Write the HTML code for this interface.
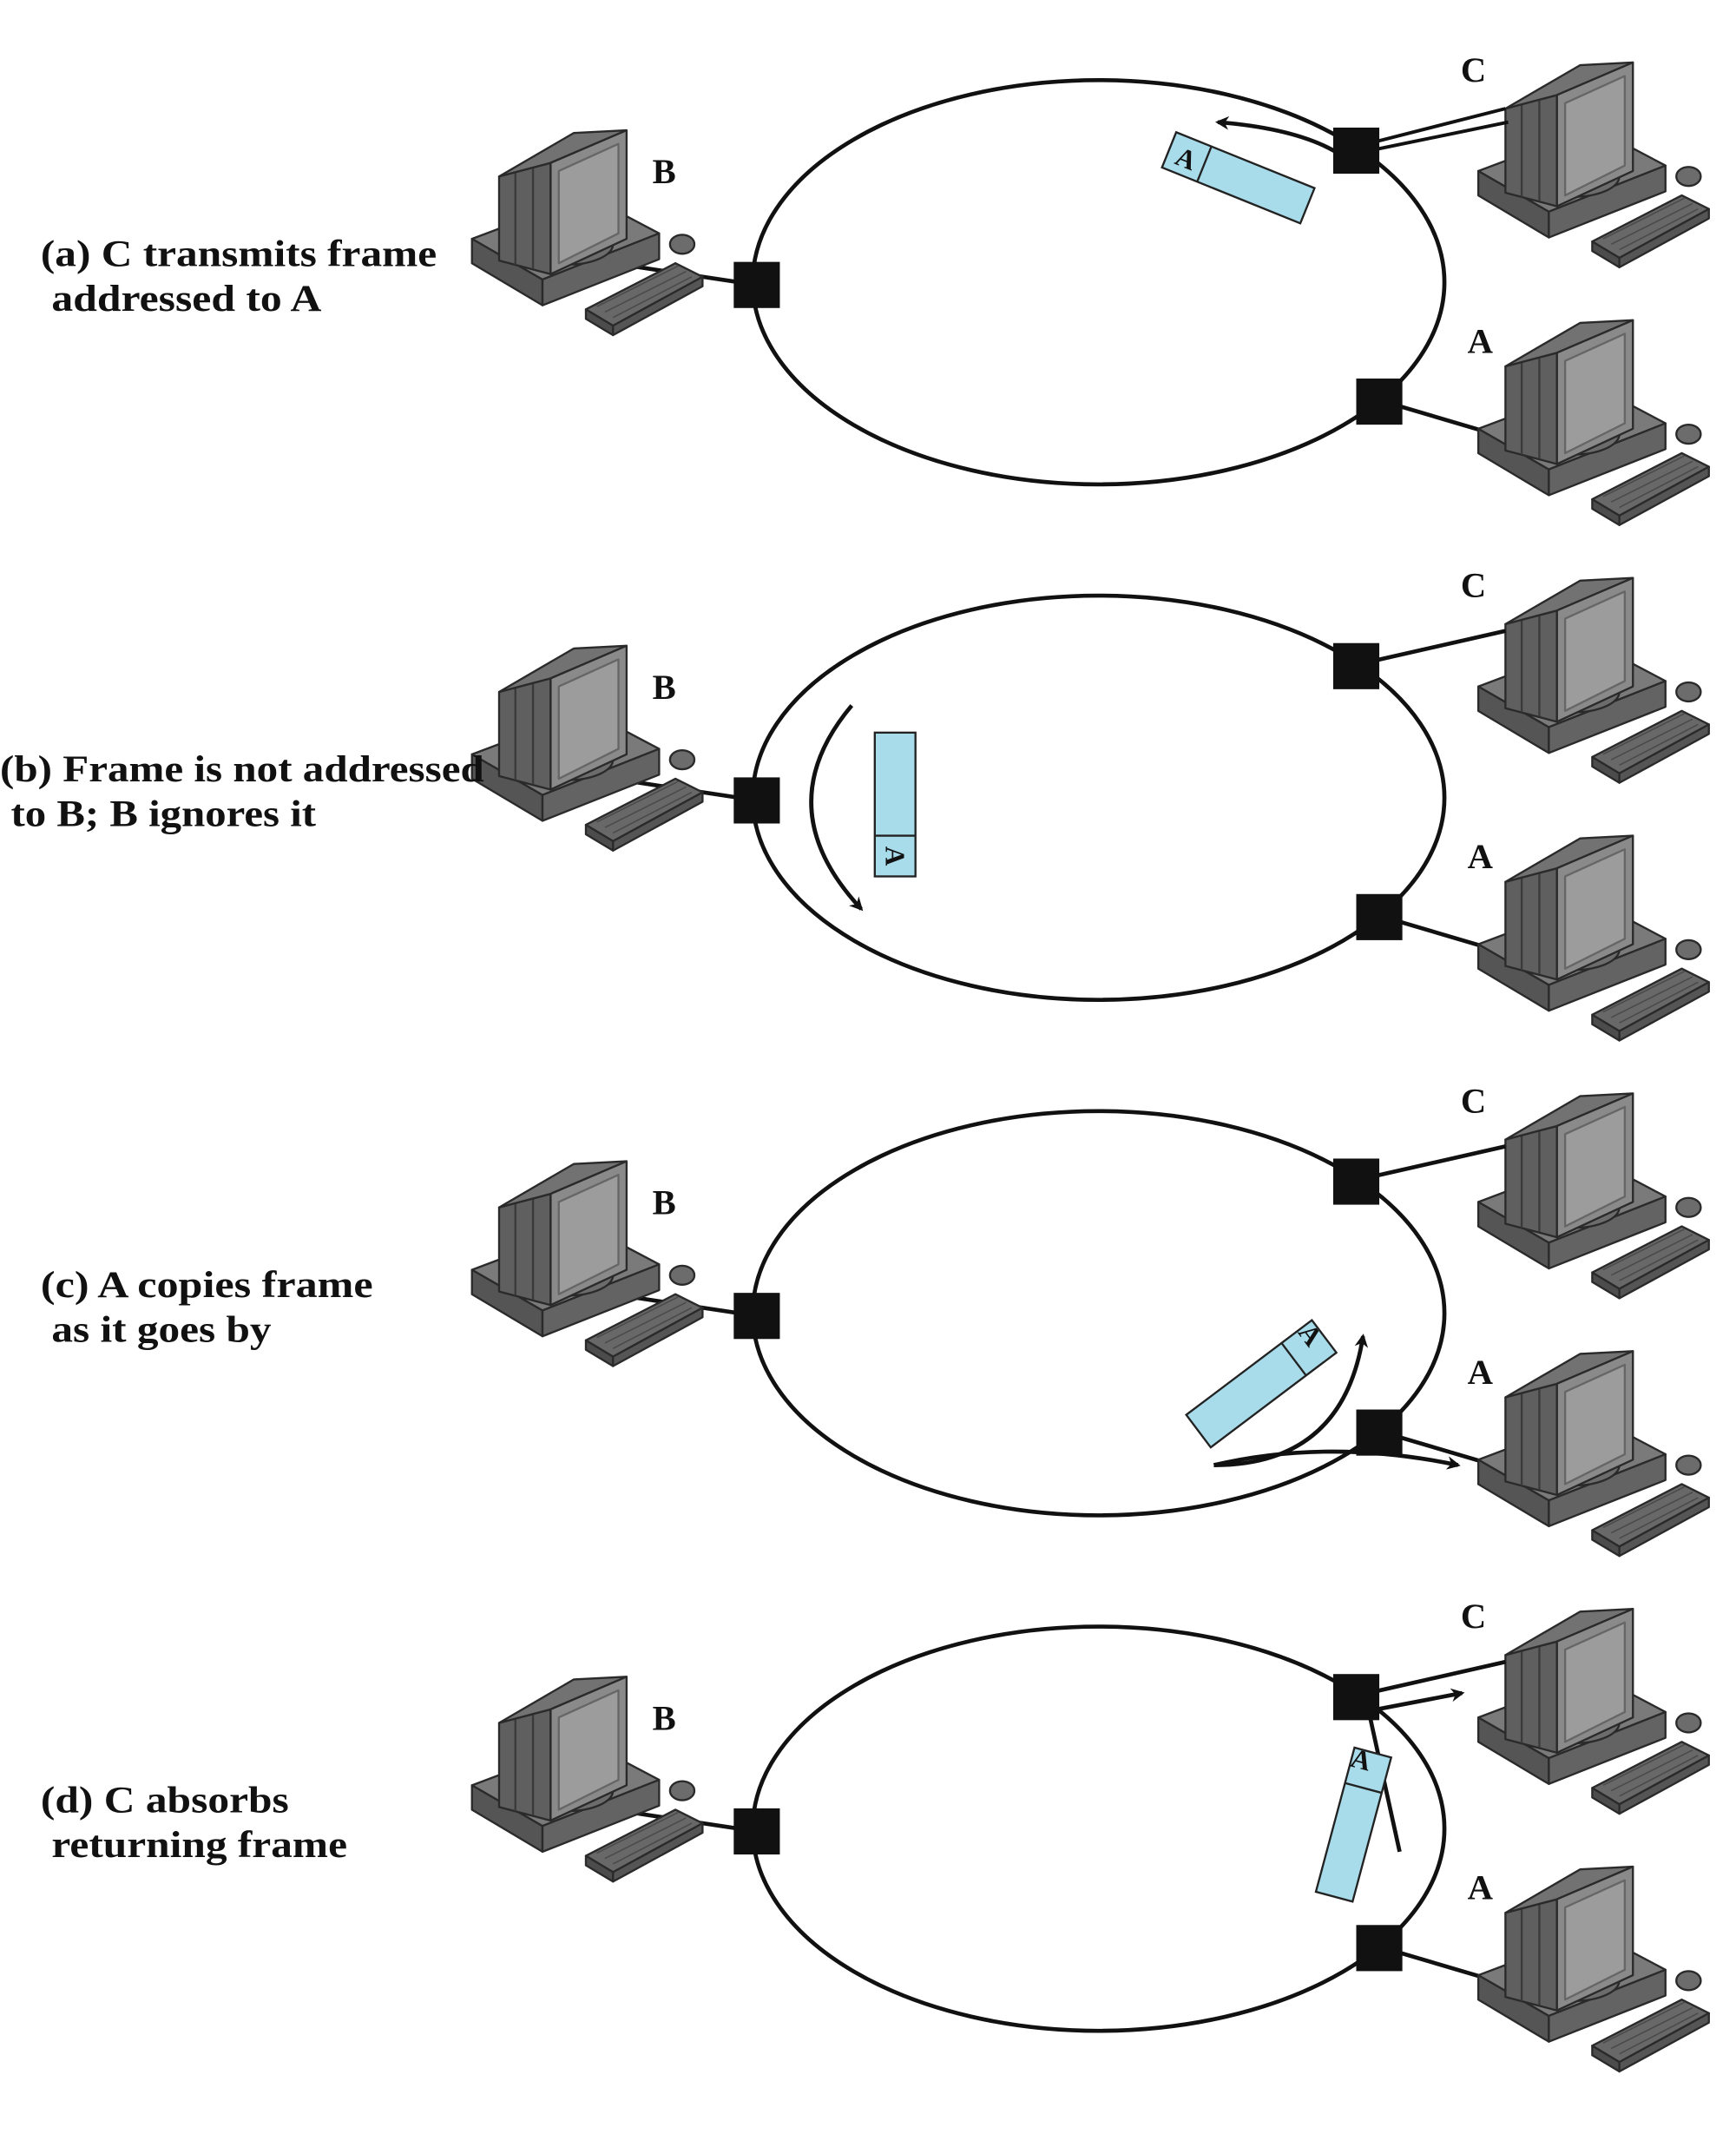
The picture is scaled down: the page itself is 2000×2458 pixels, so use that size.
<!DOCTYPE html>
<html><head><meta charset="utf-8"><style>
html,body{margin:0;padding:0;background:#fff;}
svg{display:block;}
text{font-family:"Liberation Serif",serif;font-weight:bold;fill:#111;}
</style></head><body>
<svg width="2000" height="2458" viewBox="0 0 1280 1573" xmlns="http://www.w3.org/2000/svg">
<defs>
<marker id="ah" markerWidth="10" markerHeight="10" refX="8" refY="5" orient="auto" markerUnits="userSpaceOnUse"><path d="M0,0 L10,5 L0,10 L3,5 Z" fill="#111"/></marker>
<g id="pc" stroke="#2a2a2a" stroke-width="1.5" stroke-linejoin="round">
  <polygon points="0,88 85,56 138,84 52,118" fill="#7a7a7a"/>
  <polygon points="0,88 52,118 52,137 0,106" fill="#555"/>
  <polygon points="52,118 138,84 138,103 52,137" fill="#636363"/>
  <ellipse cx="70" cy="92" rx="34" ry="15" fill="#6c6c6c"/>
  <polygon points="20,42 58,32 58,114 20,104" fill="#5f5f5f"/>
  <line x1="32" y1="39" x2="32" y2="107" stroke="#3a3a3a"/>
  <line x1="45" y1="36" x2="45" y2="110" stroke="#3a3a3a"/>
  <polygon points="20,42 75,10 114,8 58,32" fill="#727272"/>
  <polygon points="58,32 114,8 114,88 58,114" fill="#8a8a8a"/>
  <polygon points="64,38 108,18 108,84 64,106" fill="#9c9c9c" stroke="#666"/>
  <polygon points="84,140 150,106 170,116 104,152" fill="#686868"/>
  <polygon points="84,140 104,152 104,159 84,147" fill="#4c4c4c"/>
  <polygon points="104,152 170,116 170,123 104,159" fill="#555"/>
  <path d="M92,138 L152,108 M98,142 L158,112 M104,146 L162,116" stroke="#4a4a4a" stroke-width="1"/>
  <ellipse cx="155" cy="92" rx="9" ry="7" fill="#6c6c6c"/>
</g>
<g id="ring">
  <ellipse cx="810" cy="208" rx="255" ry="149" fill="none" stroke="#111" stroke-width="3"/>
  <line x1="465" y1="196" x2="558" y2="210" stroke="#111" stroke-width="3"/>
  <line x1="1017" y1="295" x2="1095" y2="318" stroke="#111" stroke-width="3"/>
  <rect x="541" y="193" width="34" height="34" fill="#111"/>
  <rect x="1000" y="279" width="34" height="34" fill="#111"/>
  <rect x="983" y="94" width="34" height="34" fill="#111"/>
  <use href="#pc" x="348" y="88"/>
  <use href="#pc" x="1090" y="38"/>
  <use href="#pc" x="1090" y="228"/>
  <text x="481" y="135" font-size="26">B</text>
  <text x="1077" y="60" font-size="26">C</text>
  <text x="1082" y="260" font-size="26">A</text>
</g>
</defs>

<!-- (a) -->
<use href="#ring" x="0" y="0"/>
<line x1="1000" y1="108" x2="1110" y2="80" stroke="#111" stroke-width="2.5"/>
<line x1="1005" y1="112" x2="1112" y2="90" stroke="#111" stroke-width="2.5"/>
<path d="M990,115 Q960,95 898,90" fill="none" stroke="#111" stroke-width="3" marker-end="url(#ah)"/>
<g transform="translate(913,131) rotate(22)">
  <rect x="-55" y="-14" width="110" height="28" fill="#a8dcea" stroke="#222" stroke-width="1.5"/>
  <line x1="-27" y1="-14" x2="-27" y2="14" stroke="#222" stroke-width="1.5"/>
  <text x="-41" y="8" font-size="20" text-anchor="middle">A</text>
</g>
<text x="30" y="196" font-size="28" textLength="292" lengthAdjust="spacingAndGlyphs">(a) C transmits frame</text>
<text x="38" y="229" font-size="28" textLength="199" lengthAdjust="spacingAndGlyphs">addressed to A</text>

<!-- (b) -->
<use href="#ring" x="0" y="380"/>
<line x1="1000" y1="490" x2="1110" y2="465" stroke="#111" stroke-width="3"/>
<path d="M628,520 Q565,595 635,670" fill="none" stroke="#111" stroke-width="3" marker-end="url(#ah)"/>
<g transform="translate(660,593)">
  <rect x="-15" y="-53" width="30" height="106" fill="#a8dcea" stroke="#222" stroke-width="1.5"/>
  <line x1="-15" y1="23" x2="15" y2="23" stroke="#222" stroke-width="1.5"/>
  <text x="0" y="0" font-size="20" text-anchor="middle" transform="translate(-7,38) rotate(90)">A</text>
</g>
<text x="0" y="576" font-size="28" textLength="357" lengthAdjust="spacingAndGlyphs">(b) Frame is not addressed</text>
<text x="8" y="609" font-size="28" textLength="225" lengthAdjust="spacingAndGlyphs">to B; B ignores it</text>

<!-- (c) -->
<use href="#ring" x="0" y="760"/>
<line x1="1000" y1="870" x2="1110" y2="845" stroke="#111" stroke-width="3"/>
<path d="M895,1080 Q990,1080 1005,985" fill="none" stroke="#111" stroke-width="3" marker-end="url(#ah)"/>
<path d="M895,1080 Q980,1060 1075,1080" fill="none" stroke="#111" stroke-width="3" marker-end="url(#ah)"/>
<g transform="translate(930,1020) rotate(-37)">
  <rect x="-58" y="-15" width="116" height="30" fill="#a8dcea" stroke="#222" stroke-width="1.5"/>
  <line x1="30" y1="-15" x2="30" y2="15" stroke="#222" stroke-width="1.5"/>
  <text x="0" y="0" font-size="20" text-anchor="middle" transform="translate(44,-7) rotate(90)">A</text>
</g>
<text x="30" y="956" font-size="28" textLength="245" lengthAdjust="spacingAndGlyphs">(c) A copies frame</text>
<text x="38" y="989" font-size="28" textLength="162" lengthAdjust="spacingAndGlyphs">as it goes by</text>

<!-- (d) -->
<use href="#ring" x="0" y="1140"/>
<line x1="1000" y1="1250" x2="1110" y2="1225" stroke="#111" stroke-width="3"/>
<path d="M1005,1262 L1078,1248" fill="none" stroke="#111" stroke-width="3" marker-end="url(#ah)"/>
<line x1="1010" y1="1265" x2="1032" y2="1365" stroke="#111" stroke-width="3"/>
<g transform="translate(998,1345) rotate(-75)">
  <rect x="-55" y="-14" width="110" height="28" fill="#a8dcea" stroke="#222" stroke-width="1.5"/>
  <line x1="28" y1="-14" x2="28" y2="14" stroke="#222" stroke-width="1.5"/>
  <text x="0" y="0" font-size="20" text-anchor="middle" transform="translate(41,-7) rotate(90)">A</text>
</g>
<text x="30" y="1336" font-size="28" textLength="183" lengthAdjust="spacingAndGlyphs">(d) C absorbs</text>
<text x="38" y="1369" font-size="28" textLength="218" lengthAdjust="spacingAndGlyphs">returning frame</text>
</svg>
</body></html>
